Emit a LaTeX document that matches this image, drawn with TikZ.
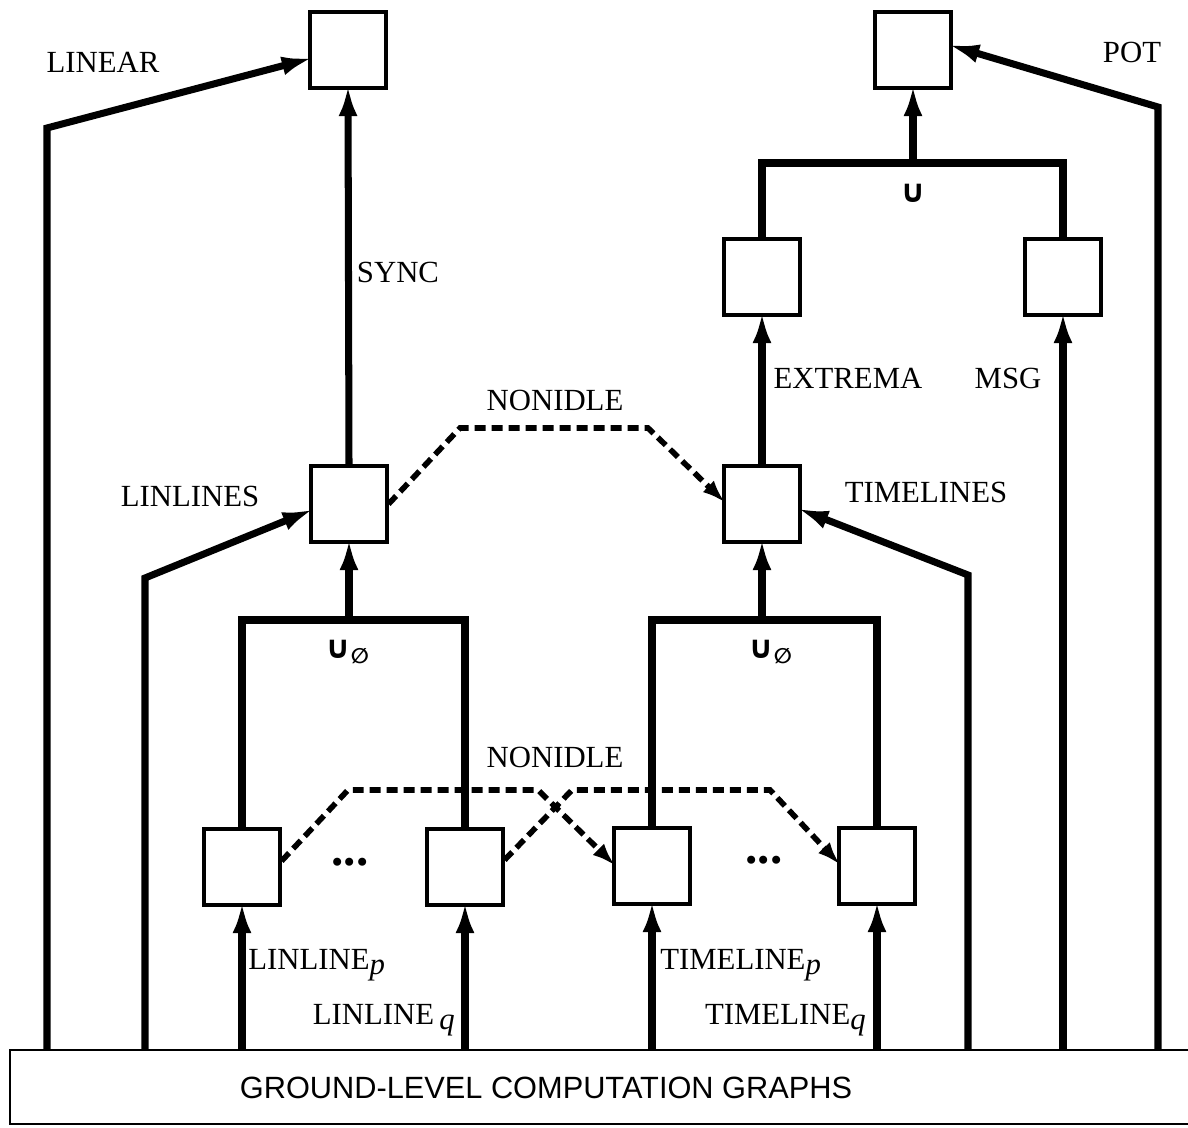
\documentclass[tikz,border=0pt]{standalone}
\usepackage{fontspec}
\setmainfont{Liberation Serif}
\newfontfamily\gsans{Liberation Sans}
\newfontfamily\djv{DejaVu Sans}
\usetikzlibrary{arrows.meta,calc}
\tikzset{
  box/.style={draw, line width=1.8pt, minimum size=1.52cm, inner sep=0pt, fill=white},
  conn/.style={line width=4pt, line join=miter},
  arr/.style={conn, shorten >=-2.5pt, -{Latex[length=0.62cm,width=0.38cm]}},
  dash arr/.style={line width=3.2pt, dash pattern=on 0.22cm off 0.12cm, shorten >=-2pt, -{Latex[length=0.46cm,width=0.32cm]}},
  lbl/.style={inner sep=0pt, font=\fontsize{17.5}{20}\selectfont},
  unionlbl/.style={inner sep=0pt, font=\djv\fontsize{18}{20}\selectfont\bfseries},
  dotslbl/.style={inner sep=0pt, font=\fontsize{28}{30}\selectfont\bfseries}
}
\newcommand{\subit}[1]{\raisebox{-0.35ex}{\itshape #1}}
\newcommand{\unionempty}{∪\raisebox{-0.25ex}{\fontsize{12}{13}\selectfont ∅}}
\begin{document}
\begin{tikzpicture}[x=0.02cm, y=-0.02cm]
\useasboundingbox (0,0) rectangle (1188,1128);

% ground box
\draw[line width=1.7pt] (1200,1050) -- (10,1050) -- (10,1124) -- (1200,1124);
\node[inner sep=0pt, font=\gsans\fontsize{17.5}{20}\selectfont] (ground) at (546,1088) {GROUND-LEVEL COMPUTATION GRAPHS};

% boxes
\node[box] (topL) at (348,50) {};
\node[box] (topR) at (913,50) {};
\node[box] (extrema) at (762,277) {};
\node[box] (msg) at (1063,277) {};
\node[box] (linlines) at (349,504) {};
\node[box] (timelines) at (762,504) {};
\node[box] (b1) at (242,867) {};
\node[box] (b2) at (465,867) {};
\node[box] (b3) at (652,866) {};
\node[box] (b4) at (877,866) {};

% ground coordinates
\coordinate (g1) at (47,1050);
\coordinate (g2) at (145,1050);
\coordinate (g3) at (968,1050);
\coordinate (g4) at (1063,1050);
\coordinate (g5) at (1158,1050);
\coordinate (c1) at (47,128);
\coordinate (c2) at (145,578);
\coordinate (c3) at (968,575);
\coordinate (c5) at (1158,107);

% LINEAR / POT
\draw[arr] (g1) -- (c1) -- ($(topL.west)+(0,9)$);
\draw[arr] (g5) -- (c5) -- ($(topR.east)+(0,-4)$);

% SYNC
\draw[arr] (linlines.north) -- (topL.south);

% union at top
\coordinate (u1) at (762,163);
\coordinate (u2) at (1063,163);
\coordinate (u3) at (913,163);
\draw[conn] (extrema.north) -- (u1) -- (u2) -- (msg.north);
\draw[arr] (u3) -- (topR.south);

% EXTREMA, MSG
\draw[arr] (timelines.north) -- (extrema.south);
\draw[arr] (g4) -- (msg.south);

% into LINLINES / TIMELINES
\draw[arr] (g2) -- (c2) -- ($(linlines.west)+(0,7)$);
\draw[arr] (g3) -- (c3) -- ($(timelines.east)+(0,6)$);

% upper NONIDLE
\coordinate (n1) at (460,428);
\coordinate (n2) at (648,428);
\draw[dash arr] (linlines.east) -- (n1) -- (n2) -- ($(timelines.west)+(0,-4)$);

% union-empty bars
\coordinate (l1) at (242,620);
\coordinate (l2) at (465,620);
\coordinate (l3) at (349,620);
\draw[conn] (b1.north) -- (l1) -- (l2) -- (b2.north);
\draw[arr] (l3) -- (linlines.south);
\coordinate (r1) at (652,620);
\coordinate (r2) at (877,620);
\coordinate (r3) at (762,620);
\draw[conn] (b3.north) -- (r1) -- (r2) -- (b4.north);
\draw[arr] (r3) -- (timelines.south);

% lower NONIDLE
\coordinate (d1) at (348,790);
\coordinate (d2) at (538,790);
\coordinate (d3) at (572,790);
\coordinate (d4) at (770,790);
\draw[dash arr] ($(b1.east)+(0,-6)$) -- (d1) -- (d2) -- ($(b3.west)+(0,-3)$);
\draw[dash arr] ($(b2.east)+(0,-7)$) -- (d3) -- (d4) -- ($(b4.west)+(0,-4)$);

% bottom arrows
\coordinate (gb1) at (242,1050);
\coordinate (gb2) at (465,1050);
\coordinate (gb3) at (652,1050);
\coordinate (gb4) at (877,1050);
\draw[arr] (gb1) -- (b1.south);
\draw[arr] (gb2) -- (b2.south);
\draw[arr] (gb3) -- (b3.south);
\draw[arr] (gb4) -- (b4.south);

% labels
\node[lbl] (tLinear) at (103,62) {LINEAR};
\node[lbl] (tPot) at (1132,52) {POT};
\node[lbl] (tSync) at (398,272) {SYNC};
\node[unionlbl] (tU) at (913,193) {∪};
\node[lbl] (tExt) at (848,378) {EXTREMA};
\node[lbl] (tMsg) at (1008,378) {MSG};
\node[lbl] (tNon1) at (555,400) {NONIDLE};
\node[lbl] (tLinl) at (190,496) {LINLINES};
\node[lbl] (tTiml) at (926,492) {TIMELINES};
\node[unionlbl] (tUL) at (347,652) {\unionempty};
\node[unionlbl] (tUR) at (770,652) {\unionempty};
\node[lbl] (tNon2) at (555,757) {NONIDLE};
\node[dotslbl] (dots1) at (350,862) {...};
\node[dotslbl] (dots2) at (764,860) {...};
\node[lbl, anchor=west] (tLp) at (248,965) {LINLINE\subit{p}};
\node[lbl, anchor=east] (tLq) at (455,1020) {LINLINE\,\subit{q}};
\node[lbl, anchor=west] (tTp) at (660,965) {TIMELINE\subit{p}};
\node[lbl, anchor=east] (tTq) at (866,1020) {TIMELINE\subit{q}};
\end{tikzpicture}
\end{document}
